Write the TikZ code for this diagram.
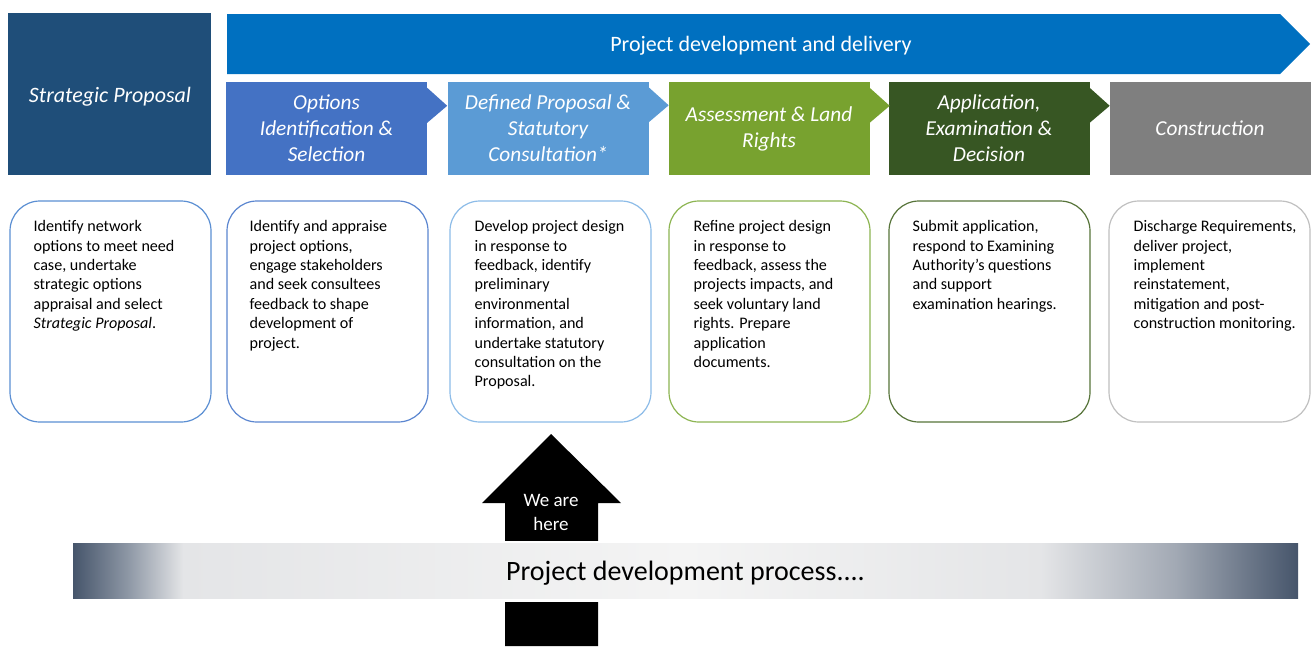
\documentclass[tikz,border=0pt]{standalone}
\usepackage{fontspec}
\setmainfont{Carlito}
\definecolor{spcol}{HTML}{1F4E79}
\definecolor{topcol}{HTML}{0070C0}
\definecolor{ccA}{HTML}{4472C4}
\definecolor{ccB}{HTML}{5B9BD5}
\definecolor{ccC}{HTML}{78A22F}
\definecolor{ccD}{HTML}{375623}
\definecolor{ccE}{HTML}{7F7F7F}
\definecolor{bdA}{HTML}{5B8FD3}
\definecolor{bdB}{HTML}{5B86D0}
\definecolor{bdC}{HTML}{8DBCE8}
\definecolor{bdD}{HTML}{8DB552}
\definecolor{bdE}{HTML}{57743A}
\definecolor{bdF}{HTML}{C0C0C0}
\definecolor{gdark}{HTML}{46556B}
\definecolor{gmidL}{HTML}{8C96A4}
\definecolor{glight}{HTML}{E4E5E7}
\definecolor{gwhite}{HTML}{F4F4F4}
\definecolor{gmidR}{HTML}{A2A9B4}
\pgfdeclarehorizontalshading{barshade}{100bp}{color(0bp)=(gdark); color(25bp)=(gdark); color(27.2bp)=(gmidL); color(29.5bp)=(glight); color(50bp)=(gwhite); color(64.5bp)=(glight); color(70bp)=(gmidR); color(75bp)=(gdark); color(100bp)=(gdark)}
\begin{document}
\begin{tikzpicture}[x=1pt,y=-1pt,
  chev/.style={rectangle, inner sep=0pt, minimum width=201pt, minimum height=93pt, text=white, align=center, font=\fontsize{21.3}{26}\selectfont\itshape},
  descbox/.style={rectangle, rounded corners=30pt, line width=1.2pt, minimum width=201pt, minimum height=221pt, fill=white},
  desctext/.style={anchor=north west, inner sep=0pt, align=left, font=\fontsize{16.1}{19.4}\selectfont}
]
\useasboundingbox (0,0) rectangle (1312,646);
\clip (0,0) rectangle (1312,646);
\fill[white] (0,0) rectangle (1312,646);

% Strategic proposal
\node[chev, fill=spcol, minimum width=203pt, minimum height=162pt] (sp) at (109.5,94) {};
\node[text=white, inner sep=0pt, font=\fontsize{22}{26}\selectfont\itshape] (spt) at (110,97) {Strategic Proposal};

% Top arrow
\coordinate (tA) at (227,14);
\coordinate (tB) at (1280,14);
\coordinate (tC) at (1310,44);
\coordinate (tD) at (1280,74);
\coordinate (tE) at (227,74);
\fill[topcol] (tA) -- (tB) -- (tC) -- (tD) -- (tE) -- cycle;
\node[text=white, font=\fontsize{22}{26}\selectfont] (top) at (761,46) {Project development and delivery};

% Chevrons
\node[chev, fill=ccA] (c1) at (326.5,128.5) {Options\\Identification \&\\Selection};
\node[chev, fill=ccB] (c2) at (548,128) {Defined Proposal \&\\Statutory\\Consultation*};
\node[chev, fill=ccC] (c3) at (769,128.5) {Assessment \& Land\\Rights};
\node[chev, fill=ccD] (c4) at (989,128.5) {Application,\\Examination \&\\Decision};
\node[chev, fill=ccE] (c5) at (1210,128.5) {Construction};
\foreach \n/\c in {c1/ccA,c2/ccB,c3/ccC,c4/ccD}{
  \fill[\c] (\n.north east) ++(0,6) -- ++(20,18) -- ++(-20,17) -- cycle;
}

% Description boxes
\node[descbox, draw=bdA] (d1) at (110.5,311.5) {};
\node[descbox, draw=bdB] (d2) at (327.5,311.5) {};
\node[descbox, draw=bdC] (d3) at (550.5,311.5) {};
\node[descbox, draw=bdD] (d4) at (769.5,311.5) {};
\node[descbox, draw=bdE] (d5) at (989.5,311.5) {};
\node[descbox, draw=bdF] (d6) at (1209.5,311.5) {};

\node[desctext] (t1) at ([xshift=24pt,yshift=-20pt]d1.north west) {Identify network\\options to meet need\\case, undertake\\strategic options\\appraisal and select\\\textit{Strategic Proposal}.};
\node[desctext] (t2) at ([xshift=23pt,yshift=-20pt]d2.north west) {Identify and appraise\\project options,\\engage stakeholders\\and seek consultees\\feedback to shape\\development of\\project.};
\node[desctext] (t3) at ([xshift=25pt,yshift=-20pt]d3.north west) {Develop project design\\in response to\\feedback, identify\\preliminary\\environmental\\information, and\\undertake statutory\\consultation on the\\Proposal.};
\node[desctext] (t4) at ([xshift=25pt,yshift=-20pt]d4.north west) {Refine project design\\in response to\\feedback, assess the\\projects impacts, and\\seek voluntary land\\rights. Prepare\\application\\documents.};
\node[desctext] (t5) at ([xshift=24pt,yshift=-20pt]d5.north west) {Submit application,\\respond to Examining\\Authority’s questions\\and support\\examination hearings.};
\node[desctext] (t6) at ([xshift=25pt,yshift=-20pt]d6.north west) {Discharge Requirements,\\deliver project,\\implement\\reinstatement,\\mitigation and post-\\construction monitoring.};

% We are here arrow
\fill[black] (505,646) -- (505,503) -- (482,503) -- (551,434) -- (621,503) -- (598,503) -- (598,646) -- cycle;
\node[text=white, align=center, font=\fontsize{19}{24}\selectfont] (here) at (551,512) {We are\\here};

% Process bar
\fill[white] (70,540.5) rectangle (1301,602);
\shade[shading=barshade] (73,543) rectangle (1298,598);
\node[font=\fontsize{28}{32}\selectfont] (bar) at (685.5,573) {Project development process....};
\end{tikzpicture}
\end{document}
